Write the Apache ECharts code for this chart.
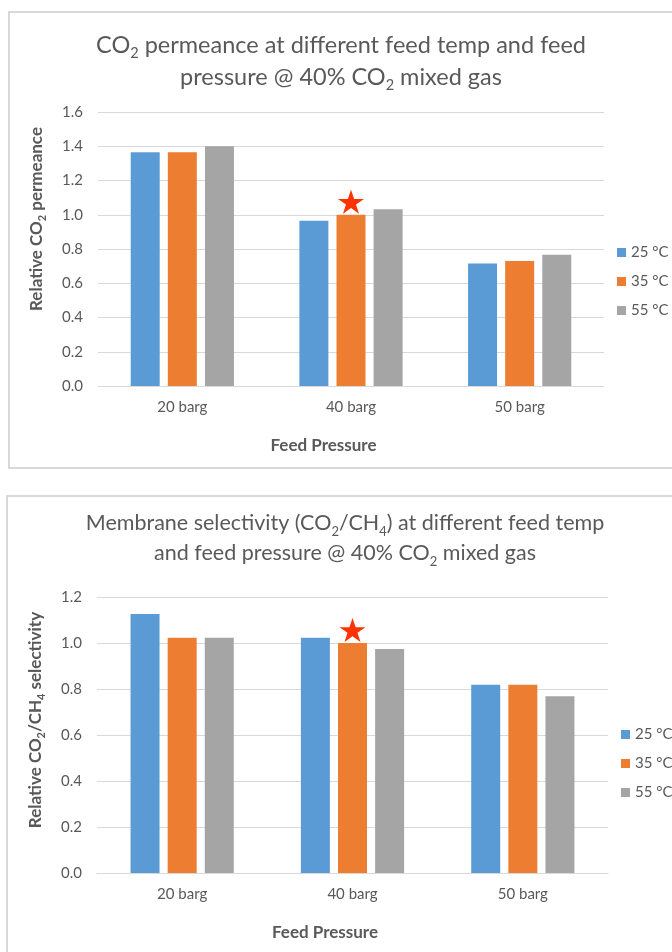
<!DOCTYPE html>
<html><head><meta charset="utf-8">
<script src="https://cdn.jsdelivr.net/npm/echarts@6/dist/echarts.min.js"></script>
<style>html,body{margin:0;padding:0;background:#fff}#c{width:672px;height:952px}</style>
</head><body><div id="c"></div>
<script>
// ---- data ----
const categories = ['20 barg', '40 barg', '50 barg'];
const seriesNames = ['25 °C', '35 °C', '55 °C'];
const permeance25 = [1.365, 0.965, 0.715];
const permeance35 = [1.365, 1.000, 0.730];
const permeance55 = [1.400, 1.032, 0.767];
const selectivity25 = [1.126, 1.023, 0.818];
const selectivity35 = [1.023, 1.000, 0.818];
const selectivity55 = [1.023, 0.974, 0.768];
const permeanceAxis = { min: 0, max: 1.6, interval: 0.2 };
const selectivityAxis = { min: 0, max: 1.2, interval: 0.2 };
const starCategory = '40 barg'; // reference point (35 °C, 40 barg)

// ---- styling ----
const FONT = 'Lato';
const TXT = '#595959';
const GRIDC = '#D9D9D9';
const colors = ['#5B9BD5', '#ED7D31', '#A5A5A5'];
const starPath = 'path://M50,0 L61.8,35.1 L98.9,35.1 L68.8,56.7 L80.2,91.9 L50,70 L19.8,91.9 L31.2,56.7 L1.1,35.1 L38.2,35.1 Z';

function titleRich(size, sub, lh) {
  return {
    t: { fontFamily: FONT, fontSize: size, fontWeight: 'normal', color: TXT, lineHeight: lh },
    s: { fontFamily: FONT, fontSize: sub, fontWeight: 'normal', color: TXT, lineHeight: sub + 2, verticalAlign: 'bottom' }
  };
}
const nameRich = {
  b: { fontFamily: FONT, fontSize: 17, fontWeight: 'bold', color: TXT, lineHeight: 22 },
  s: { fontFamily: FONT, fontSize: 11, fontWeight: 'bold', color: TXT, lineHeight: 11, verticalAlign: 'bottom' }
};

function makeXAxis(gi) {
  return {
    type: 'category', gridIndex: gi, data: categories,
    axisLine: { lineStyle: { color: GRIDC, width: 1 } },
    axisTick: { show: false },
    axisLabel: { color: TXT, fontFamily: FONT, fontSize: 15, margin: 14 },
    name: 'Feed Pressure', nameLocation: 'middle', nameGap: 51,
    nameTextStyle: { color: TXT, fontFamily: FONT, fontSize: 17, fontWeight: 'bold', padding: [0, 55, 0, 0] }
  };
}
function makeYAxis(gi, ax, name, shift) {
  return {
    type: 'value', gridIndex: gi, min: ax.min, max: ax.max, interval: ax.interval,
    axisLine: { show: false }, axisTick: { show: false },
    axisLabel: { color: TXT, fontFamily: FONT, fontSize: 15, margin: 15, formatter: v => v.toFixed(1) },
    splitLine: { lineStyle: { color: GRIDC, width: 1 } },
    name: name, nameLocation: 'middle', nameGap: 50,
    nameTextStyle: { rich: nameRich, padding: [0, 0, 0, shift] }
  };
}
function makeBar(name, data, gi, color, withStar) {
  const s = {
    type: 'bar', name: name, xAxisIndex: gi, yAxisIndex: gi, data: data,
    barWidth: 29, barGap: '28%',
    itemStyle: { color: color },
    emphasis: { disabled: true }
  };
  if (withStar) {
    const idx = categories.indexOf(starCategory);
    s.markPoint = {
      symbol: starPath, symbolSize: [26, 24], symbolOffset: [0, -13],
      itemStyle: { color: '#FF3300' }, label: { show: false },
      data: [{ coord: [starCategory, data[idx]] }]
    };
  }
  return s;
}

const chart = echarts.init(document.getElementById('c'), null, { renderer: 'canvas' });
chart.setOption({
  backgroundColor: '#fff',
  animation: false,
  color: colors,
  textStyle: { fontFamily: FONT },
  title: [
    { left: 341, top: 29, padding: 0, textAlign: 'center',
      text: '{t|CO}{s|2}{t| permeance at different feed temp and feed}\n{t|pressure @ 40% CO}{s|2}{t| mixed gas}',
      textStyle: { fontWeight: 'normal', rich: titleRich(23.5, 14.5, 32) } },
    { left: 345, top: 508, padding: 0, textAlign: 'center',
      text: '{t|Membrane selectivity (CO}{s|2}{t|/CH}{s|4}{t|) at different feed temp}\n{t|and feed pressure @ 40% CO}{s|2}{t| mixed gas}',
      textStyle: { fontWeight: 'normal', rich: titleRich(21.5, 13, 30) } }
  ],
  legend: [
    { orient: 'vertical', left: 612, top: 240, itemWidth: 9, itemHeight: 9, itemGap: 14,
      icon: 'rect', data: seriesNames,
      textStyle: { color: TXT, fontFamily: FONT, fontSize: 15 } },
    { orient: 'vertical', left: 616, top: 722, itemWidth: 9, itemHeight: 9, itemGap: 14,
      icon: 'rect', data: seriesNames,
      textStyle: { color: TXT, fontFamily: FONT, fontSize: 15 } }
  ],
  grid: [
    { left: 98, top: 112, width: 506, height: 274 },
    { left: 97, top: 597, width: 511, height: 276 }
  ],
  xAxis: [makeXAxis(0), makeXAxis(1)],
  yAxis: [
    makeYAxis(0, permeanceAxis, '{b|Relative CO}{s|2}{b| permeance}', 60),
    makeYAxis(1, selectivityAxis, '{b|Relative CO}{s|2}{b|/CH}{s|4}{b| selectivity}', 30)
  ],
  series: [
    makeBar(seriesNames[0], permeance25, 0, colors[0], false),
    makeBar(seriesNames[1], permeance35, 0, colors[1], true),
    makeBar(seriesNames[2], permeance55, 0, colors[2], false),
    makeBar(seriesNames[0], selectivity25, 1, colors[0], false),
    makeBar(seriesNames[1], selectivity35, 1, colors[1], true),
    makeBar(seriesNames[2], selectivity55, 1, colors[2], false)
  ],
  graphic: [
    { type: 'rect', silent: true, z: -1, shape: { x: 9, y: 12, width: 700, height: 456 },
      style: { fill: 'none', stroke: GRIDC, lineWidth: 2 } },
    { type: 'rect', silent: true, z: -1, shape: { x: 7, y: 496, width: 700, height: 500 },
      style: { fill: 'none', stroke: GRIDC, lineWidth: 2 } }
  ]
});
</script></body></html>
